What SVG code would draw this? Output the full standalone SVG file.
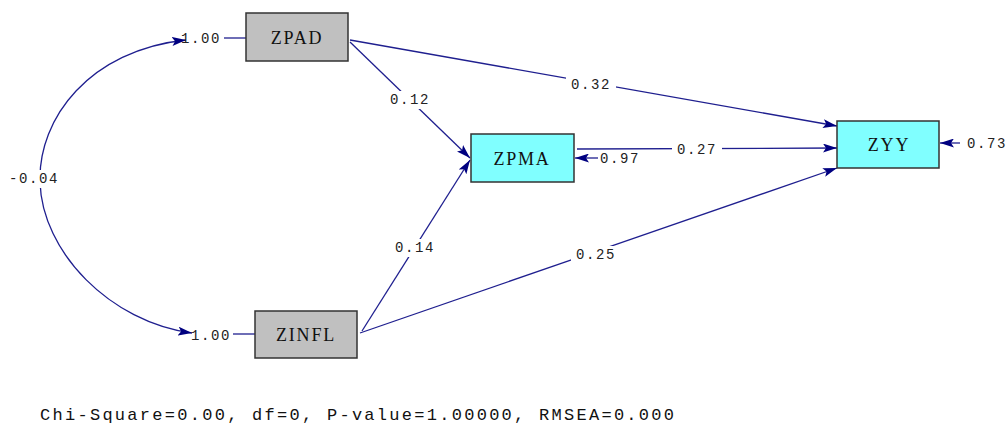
<svg xmlns="http://www.w3.org/2000/svg" width="1006" height="424" viewBox="0 0 1006 424">
<style>
.edge{fill:none;stroke:#1f1f8f;stroke-width:1.3}
.box{stroke:#333;stroke-width:1.5}
.gray{fill:#c0c0c0}
.cyan{fill:#80ffff}
.nt{font-family:"Liberation Serif",serif;font-size:18px;letter-spacing:1.8px;fill:#111;text-anchor:middle}
.lb{font-family:"Liberation Mono",monospace;font-size:14px;letter-spacing:1.6px;fill:#222;text-anchor:middle}
.bg{fill:#fff}
.ft{font-family:"Liberation Mono",monospace;font-size:17px;fill:#111}
</style>
<defs>
<marker id="ah" viewBox="0 0 14 9" refX="14" refY="4.5" markerWidth="14" markerHeight="9" markerUnits="userSpaceOnUse" orient="auto">
<path d="M0,0 L14,4.5 L0,9 L3,4.5 Z" fill="#000080"/>
</marker>
<marker id="ahs" viewBox="0 0 14 9" refX="0" refY="4.5" markerWidth="14" markerHeight="9" markerUnits="userSpaceOnUse" orient="auto">
<path d="M14,0 L0,4.5 L14,9 L11,4.5 Z" fill="#000080"/>
</marker>
</defs>
<g id="connectors">
<path class="edge" d="M186,40 C90,50 38,118 40,182 C42,252 110,322 192,333" marker-start="url(#ahs)" marker-end="url(#ah)"/>
<line class="edge" x1="224" y1="38" x2="246" y2="38"/>
<line class="edge" x1="233" y1="334" x2="255" y2="334"/>
<line class="edge" x1="350" y1="40" x2="837" y2="126" marker-end="url(#ah)"/>
<line class="edge" x1="350" y1="42" x2="470" y2="158" marker-end="url(#ah)"/>
<line class="edge" x1="362" y1="331" x2="470" y2="160" marker-end="url(#ah)"/>
<line class="edge" x1="360" y1="333" x2="837" y2="168" marker-end="url(#ah)"/>
<line class="edge" x1="577" y1="149" x2="837" y2="148" marker-end="url(#ah)"/>
<line class="edge" x1="598" y1="158" x2="575" y2="158" marker-end="url(#ah)"/>
<line class="edge" x1="960" y1="143" x2="940" y2="143" marker-end="url(#ah)"/>
<rect class="bg" x="6" y="170" width="56" height="18"/>
<rect class="bg" x="566" y="76" width="50" height="18"/>
<rect class="bg" x="385" y="91" width="50" height="18"/>
<rect class="bg" x="390" y="239" width="50" height="18"/>
<rect class="bg" x="571" y="246" width="50" height="18"/>
<rect class="bg" x="672" y="141" width="50" height="18"/>
<text class="lb" x="34" y="183">-0.04</text>
<text class="lb" x="201" y="43">1.00</text>
<text class="lb" x="211" y="340">1.00</text>
<text class="lb" x="591" y="89">0.32</text>
<text class="lb" x="410" y="104">0.12</text>
<text class="lb" x="415" y="252">0.14</text>
<text class="lb" x="596" y="259">0.25</text>
<text class="lb" x="697" y="154">0.27</text>
<text class="lb" x="620" y="163">0.97</text>
<text class="lb" x="987" y="148">0.73</text>
</g>
<g id="ZPAD"><rect class="box gray" x="246" y="13" width="102" height="48"/><text class="nt" x="297" y="44">ZPAD</text></g>
<g id="ZPMA"><rect class="box cyan" x="471" y="134" width="103" height="48"/><text class="nt" x="522" y="165">ZPMA</text></g>
<g id="ZYY"><rect class="box cyan" x="837" y="121" width="102" height="47"/><text class="nt" x="889" y="151">ZYY</text></g>
<g id="ZINFL"><rect class="box gray" x="255" y="311" width="102" height="47"/><text class="nt" x="306" y="341">ZINFL</text></g>
<text class="ft" x="40" y="420" textLength="634" lengthAdjust="spacing">Chi-Square=0.00, df=0, P-value=1.00000, RMSEA=0.000</text>
</svg>
